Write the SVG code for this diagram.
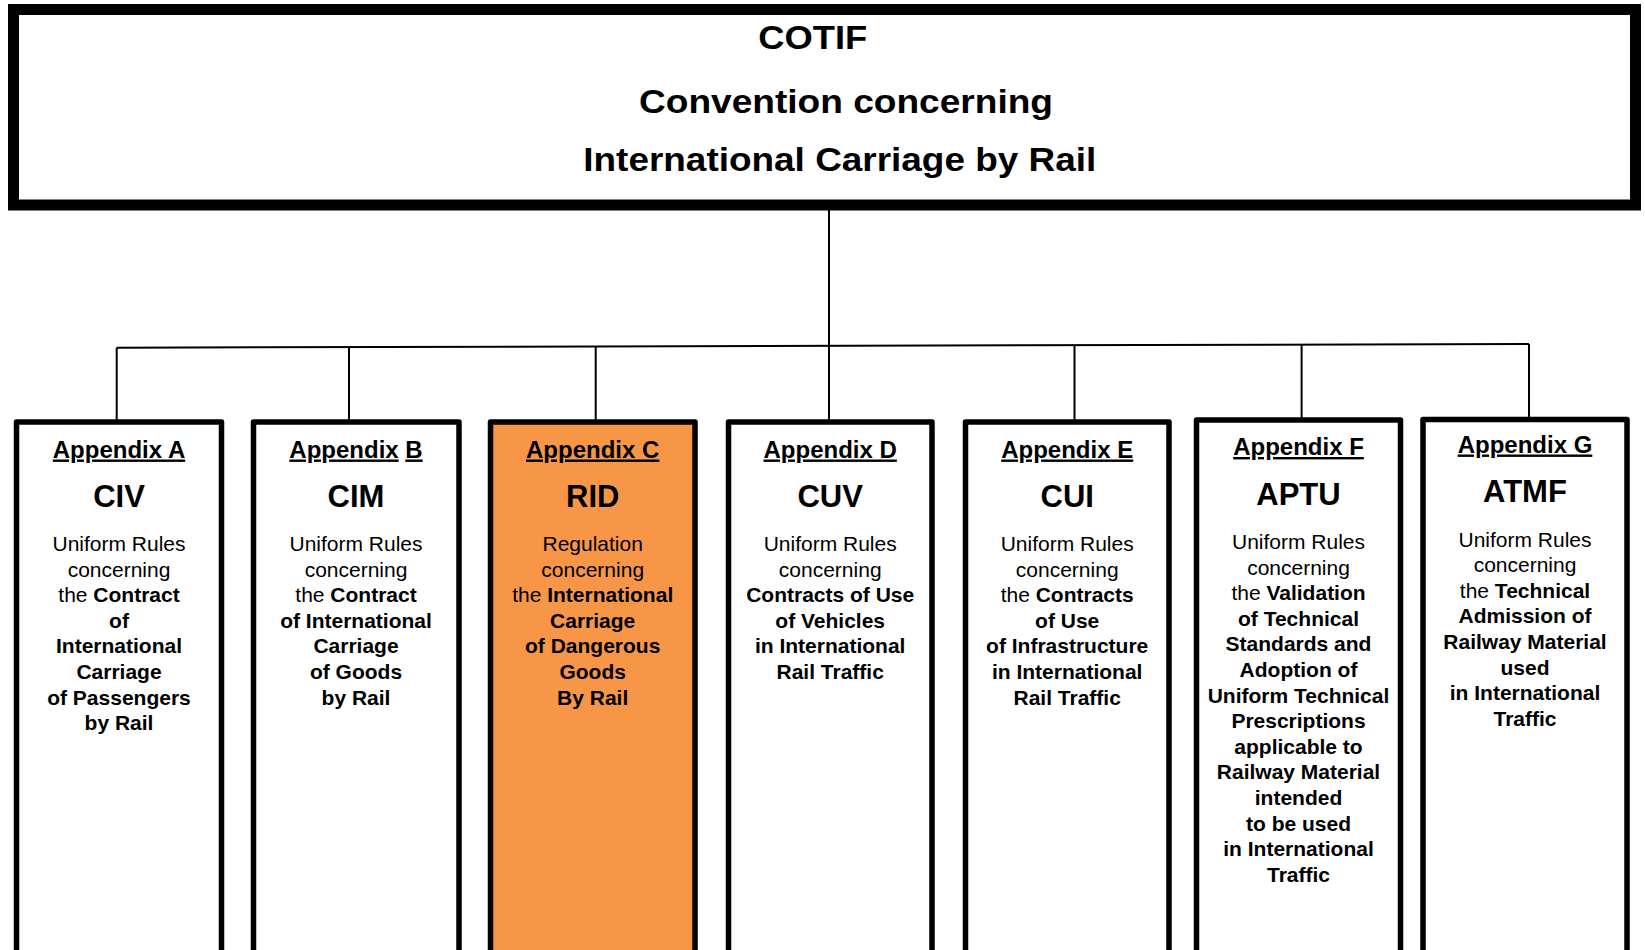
<svg xmlns="http://www.w3.org/2000/svg" width="1645" height="950" viewBox="0 0 1645 950">
<style>
text{font-family:"Liberation Sans",Arial,sans-serif;fill:#000;text-anchor:middle}
.ttl{font-size:34px;font-weight:bold;text-anchor:start}
.app{font-size:24px;font-weight:bold}
.u{text-decoration:underline}
.abbr{font-size:31px;font-weight:bold}
.body{font-size:21px}
.b{font-weight:bold}
.box{fill:#fff;stroke:#000;stroke-width:5.5;stroke-linejoin:round}
.hl{fill:#F79646}
.conn{stroke:#000;stroke-width:2;fill:none}
</style>
<rect width="1645" height="950" fill="#fff"/>
<g id="cotif">
<rect x="13.5" y="9.5" width="1622" height="195.5" fill="#fff" stroke="#000" stroke-width="11"/>
<text class="ttl" x="758.3" y="49.3" textLength="109" lengthAdjust="spacingAndGlyphs">COTIF</text>
<text class="ttl" x="639" y="113.3" textLength="414" lengthAdjust="spacingAndGlyphs">Convention concerning</text>
<text class="ttl" x="583.3" y="170.7" textLength="513" lengthAdjust="spacingAndGlyphs">International Carriage by Rail</text>
</g>
<g id="connectors" class="conn">
<path d="M829 210V345.8"/>
<path d="M116.7 347.7L1529 344"/>
<path d="M116.7 347.7V420"/>
<path d="M349 347.1V420"/>
<path d="M595.7 346.4V420"/>
<path d="M829 345.8V420"/>
<path d="M1074.5 345.2V420"/>
<path d="M1301.6 344.6V418"/>
<path d="M1529 344V417"/>
</g>
<g id="appendix-a">
<rect class="box" x="16.5" y="422" width="205" height="560"/>
<text class="app u" x="119" y="457.5">Appendix A</text>
<text class="abbr" x="119" y="507">CIV</text>
<text class="body" x="119" y="551">Uniform Rules</text>
<text class="body" x="119" y="576.6">concerning</text>
<text class="body" x="119" y="602.2">the <tspan class="b">Contract</tspan></text>
<text class="body b" x="119" y="627.8">of</text>
<text class="body b" x="119" y="653.4">International</text>
<text class="body b" x="119" y="679">Carriage</text>
<text class="body b" x="119" y="704.6">of Passengers</text>
<text class="body b" x="119" y="730.2">by Rail</text>
</g>
<g id="appendix-b">
<rect class="box" x="253.5" y="422" width="205.5" height="560"/>
<text class="app" x="356" y="457.5"><tspan class="u">Appendix</tspan> <tspan class="u">B</tspan></text>
<text class="abbr" x="356" y="507">CIM</text>
<text class="body" x="356" y="551">Uniform Rules</text>
<text class="body" x="356" y="576.6">concerning</text>
<text class="body" x="356" y="602.2">the <tspan class="b">Contract</tspan></text>
<text class="body b" x="356" y="627.8">of International</text>
<text class="body b" x="356" y="653.4">Carriage</text>
<text class="body b" x="356" y="679">of Goods</text>
<text class="body b" x="356" y="704.6">by Rail</text>
</g>
<g id="appendix-c">
<rect class="box hl" x="490.5" y="422" width="204.5" height="560"/>
<text class="app u" x="592.7" y="457.5">Appendix C</text>
<text class="abbr" x="592.7" y="507">RID</text>
<text class="body" x="592.7" y="551">Regulation</text>
<text class="body" x="592.7" y="576.6">concerning</text>
<text class="body" x="592.7" y="602.2">the <tspan class="b">International</tspan></text>
<text class="body b" x="592.7" y="627.8">Carriage</text>
<text class="body b" x="592.7" y="653.4">of Dangerous</text>
<text class="body b" x="592.7" y="679">Goods</text>
<text class="body b" x="592.7" y="704.6">By Rail</text>
</g>
<g id="appendix-d">
<rect class="box" x="728.5" y="422" width="203.5" height="560"/>
<text class="app u" x="830.2" y="457.5">Appendix D</text>
<text class="abbr" x="830.2" y="507">CUV</text>
<text class="body" x="830.2" y="551">Uniform Rules</text>
<text class="body" x="830.2" y="576.6">concerning</text>
<text class="body b" x="830.2" y="602.2">Contracts of Use</text>
<text class="body b" x="830.2" y="627.8">of Vehicles</text>
<text class="body b" x="830.2" y="653.4">in International</text>
<text class="body b" x="830.2" y="679">Rail Traffic</text>
</g>
<g id="appendix-e">
<rect class="box" x="965.5" y="422" width="203.5" height="560"/>
<text class="app u" x="1067.2" y="457.5">Appendix E</text>
<text class="abbr" x="1067.2" y="507">CUI</text>
<text class="body" x="1067.2" y="551">Uniform Rules</text>
<text class="body" x="1067.2" y="576.6">concerning</text>
<text class="body" x="1067.2" y="602.2">the <tspan class="b">Contracts</tspan></text>
<text class="body b" x="1067.2" y="627.8">of Use</text>
<text class="body b" x="1067.2" y="653.4">of Infrastructure</text>
<text class="body b" x="1067.2" y="679">in International</text>
<text class="body b" x="1067.2" y="704.6">Rail Traffic</text>
</g>
<g id="appendix-f">
<rect class="box" x="1196.5" y="420" width="204" height="560"/>
<text class="app u" x="1298.5" y="455">Appendix F</text>
<text class="abbr" x="1298.5" y="504.5">APTU</text>
<text class="body" x="1298.5" y="549">Uniform Rules</text>
<text class="body" x="1298.5" y="574.6">concerning</text>
<text class="body" x="1298.5" y="600.2">the <tspan class="b">Validation</tspan></text>
<text class="body b" x="1298.5" y="625.8">of Technical</text>
<text class="body b" x="1298.5" y="651.4">Standards and</text>
<text class="body b" x="1298.5" y="677">Adoption of</text>
<text class="body b" x="1298.5" y="702.6">Uniform Technical</text>
<text class="body b" x="1298.5" y="728.2">Prescriptions</text>
<text class="body b" x="1298.5" y="753.8">applicable to</text>
<text class="body b" x="1298.5" y="779.4">Railway Material</text>
<text class="body b" x="1298.5" y="805">intended</text>
<text class="body b" x="1298.5" y="830.6">to be used</text>
<text class="body b" x="1298.5" y="856.2">in International</text>
<text class="body b" x="1298.5" y="881.8">Traffic</text>
</g>
<g id="appendix-g">
<rect class="box" x="1423" y="419.5" width="204" height="560"/>
<text class="app u" x="1525" y="452.5">Appendix G</text>
<text class="abbr" x="1525" y="502">ATMF</text>
<text class="body" x="1525" y="546.5">Uniform Rules</text>
<text class="body" x="1525" y="572.1">concerning</text>
<text class="body" x="1525" y="597.7">the <tspan class="b">Technical</tspan></text>
<text class="body b" x="1525" y="623.3">Admission of</text>
<text class="body b" x="1525" y="648.9">Railway Material</text>
<text class="body b" x="1525" y="674.5">used</text>
<text class="body b" x="1525" y="700.1">in International</text>
<text class="body b" x="1525" y="725.7">Traffic</text>
</g>
</svg>
